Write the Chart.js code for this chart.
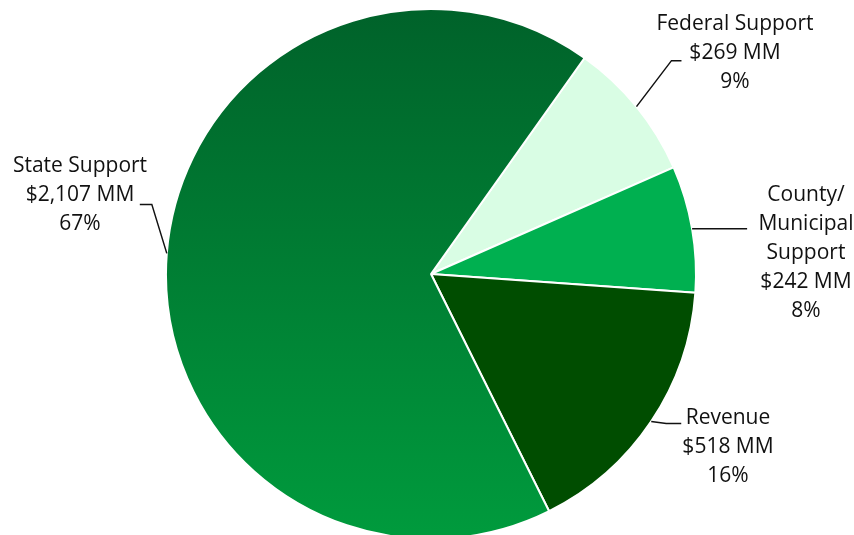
<!DOCTYPE html>
<html>
<head>
<meta charset="utf-8">
<script src="https://cdn.jsdelivr.net/npm/chart.js@4.4.1/dist/chart.umd.min.js"></script>
<style>
  html, body { margin: 0; padding: 0; background: #fff; overflow: hidden; }
  #wrap { width: 854px; height: 540px; position: relative; }
</style>
</head>
<body>
<div id="wrap"><canvas id="pie"></canvas></div>
<script>
const categories = ['Federal Support', 'County/ Municipal Support', 'Revenue', 'State Support'];
const amounts = [269, 242, 518, 2107];
const percents = ['9%', '8%', '16%', '67%'];
const labelLines = [
  ['Federal Support', '$269 MM', '9%'],
  ['County/', 'Municipal', 'Support', '$242 MM', '8%'],
  ['Revenue', '$518 MM', '16%'],
  ['State Support', '$2,107 MM', '67%'],
];
const colors = ['#d9fde4', '#00b050', '#004d00', null];

// leader line layout: elbow offset from arc edge, horizontal run, text center
const callouts = [
  { elbow: [35, -46], run: 10, text: [735, 24] },
  { elbow: [0, 0], run: 55, text: [806, 195] },
  { elbow: [15, 2], run: 15, text: [728, 418] },
  { elbow: [-15, -49], run: -12, text: [80, 166] },
];

const stateGradient = (ctx) => {
  const chart = ctx.chart;
  const area = chart.chartArea;
  if (!area) return '#007d32';
  const g = chart.ctx.createLinearGradient(0, area.top, 0, area.bottom);
  g.addColorStop(0, '#00622a');
  g.addColorStop(1, '#009b3d');
  return g;
};

const calloutPlugin = {
  id: 'callouts',
  afterDraw(chart) {
    const ctx = chart.ctx;
    const meta = chart.getDatasetMeta(0);
    ctx.save();
    ctx.font = '21px "Open Sans", sans-serif';
    ctx.fillStyle = '#111';
    ctx.strokeStyle = '#111';
    ctx.lineWidth = 1.5;
    ctx.textAlign = 'center';
    ctx.textBaseline = 'middle';
    meta.data.forEach((arc, i) => {
      const p = arc.getProps(['x', 'y', 'startAngle', 'endAngle', 'outerRadius'], true);
      const mid = (p.startAngle + p.endAngle) / 2;
      const ax = p.x + Math.cos(mid) * p.outerRadius;
      const ay = p.y + Math.sin(mid) * p.outerRadius;
      const c = callouts[i];
      const ex = ax + c.elbow[0];
      const ey = ay + c.elbow[1];
      ctx.beginPath();
      ctx.moveTo(ax, ay);
      ctx.lineTo(ex, ey);
      ctx.lineTo(ex + c.run, ey);
      ctx.stroke();
      labelLines[i].forEach((t, k) => {
        ctx.fillText(t, c.text[0], c.text[1] + k * 29);
      });
    });
    ctx.restore();
  },
};

new Chart(document.getElementById('pie'), {
  type: 'pie',
  data: {
    labels: categories,
    datasets: [{
      data: amounts,
      backgroundColor: (ctx) => (ctx.dataIndex === 3 ? stateGradient(ctx) : colors[ctx.dataIndex]),
      borderColor: '#ffffff',
      borderWidth: 2,
    }],
  },
  options: {
    responsive: true,
    maintainAspectRatio: false,
    animation: false,
    rotation: 35.4,
    layout: { padding: { top: 8, bottom: 0, left: 8, right: 0 } },
    plugins: {
      legend: { display: false },
      tooltip: { enabled: false },
    },
  },
  plugins: [calloutPlugin],
});
</script>
</body>
</html>
